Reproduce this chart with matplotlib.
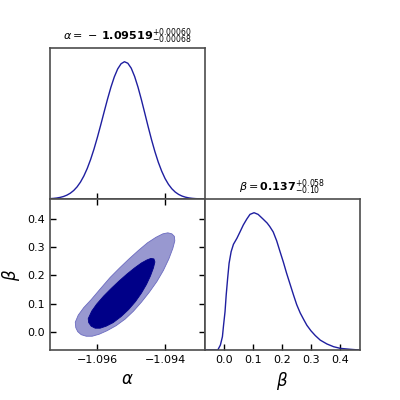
import numpy as np
import matplotlib
matplotlib.use("Agg")
import matplotlib.pyplot as plt

# 1D marginal of alpha (normalised to peak = 1)
alpha_x = [-1.0974, -1.0973, -1.0972, -1.0971, -1.0970, -1.0969, -1.0968, -1.0967,
           -1.0966, -1.0965, -1.0964, -1.0963, -1.0962, -1.0961, -1.0960, -1.0959,
           -1.0958, -1.0957, -1.0956, -1.0955, -1.0954, -1.0953, -1.0952, -1.0951,
           -1.0950, -1.0949, -1.0948, -1.0947, -1.0946, -1.0945, -1.0944, -1.0943,
           -1.0942, -1.0941, -1.0940, -1.0939, -1.0938, -1.0937, -1.0936, -1.0935,
           -1.0934, -1.0933, -1.0932, -1.0931, -1.0930, -1.0929, -1.0928]
alpha_p = [0.0026, 0.0044, 0.0072, 0.0117, 0.0183, 0.0282, 0.0423, 0.0618,
           0.0883, 0.1231, 0.1675, 0.2222, 0.2879, 0.3639, 0.4489, 0.5404,
           0.6351, 0.7279, 0.8145, 0.8893, 0.9475, 0.9853, 1.0000, 0.9890,
           0.9530, 0.8930, 0.8150, 0.7240, 0.6260, 0.5270, 0.4320, 0.3450,
           0.2680, 0.2030, 0.1490, 0.1070, 0.0746, 0.0506, 0.0335, 0.0215,
           0.0135, 0.0082, 0.0049, 0.0028, 0.0016, 0.0009, 0.0005]

# 1D marginal of beta
beta_x = [-0.063, -0.020, -0.011, -0.004, 0.000, 0.005, 0.009, 0.014, 0.019, 0.026,
          0.034, 0.046, 0.057, 0.068, 0.080, 0.091, 0.105, 0.119, 0.136, 0.150,
          0.159, 0.171, 0.183, 0.194, 0.206, 0.217, 0.229, 0.241, 0.252, 0.264,
          0.276, 0.287, 0.301, 0.316, 0.333, 0.356, 0.379, 0.402, 0.437, 0.468]
beta_p = [0.0, 0.0, 0.036, 0.097, 0.182, 0.279, 0.400, 0.522, 0.632, 0.716,
          0.770, 0.814, 0.862, 0.911, 0.954, 0.988, 1.000, 0.988, 0.954, 0.925,
          0.900, 0.860, 0.795, 0.720, 0.640, 0.560, 0.480, 0.400, 0.330, 0.270,
          0.222, 0.180, 0.140, 0.105, 0.072, 0.044, 0.024, 0.012, 0.005, 0.0]

# 2D contours (outer and inner credible regions)
outer_a = [-1.096653, -1.096638, -1.096579, -1.096476, -1.096329, -1.096153, -1.095947, -1.095712,
           -1.095447, -1.095182, -1.094932, -1.094697, -1.094462, -1.094241, -1.094050, -1.093888,
           -1.093771, -1.093712, -1.093726, -1.093800, -1.093918, -1.094065, -1.094271, -1.094521,
           -1.094785, -1.095065, -1.095344, -1.095624, -1.095918, -1.096182, -1.096403, -1.096565]
outer_b = [0.0344, 0.0149, 0.0007, -0.0099, -0.0153, -0.0153, -0.0082, 0.0043,
           0.0220, 0.0451, 0.0735, 0.1054, 0.1409, 0.1782, 0.2173, 0.2581,
           0.2953, 0.3220, 0.3380, 0.3468, 0.3504, 0.3468, 0.3344, 0.3149,
           0.2883, 0.2581, 0.2261, 0.1924, 0.1516, 0.1143, 0.0859, 0.0593]
inner_a = [-1.096271, -1.096256, -1.096182, -1.096065, -1.095918, -1.095741, -1.095535, -1.095300,
           -1.095079, -1.094874, -1.094697, -1.094550, -1.094432, -1.094344, -1.094300, -1.094329,
           -1.094418, -1.094535, -1.094697, -1.094903, -1.095124, -1.095359, -1.095594, -1.095815,
           -1.096021, -1.096168]
inner_b = [0.0469, 0.0327, 0.0202, 0.0131, 0.0131, 0.0202, 0.0327, 0.0540,
           0.0788, 0.1072, 0.1374, 0.1676, 0.1977, 0.2261, 0.2474, 0.2581,
           0.2599, 0.2545, 0.2439, 0.2261, 0.2048, 0.1800, 0.1534, 0.1267,
           0.0983, 0.0735]

alim = (-1.0974, -1.09282)
blim = (-0.064, 0.470)
a_ticks = [-1.096, -1.094]
b_ticks = [0.0, 0.1, 0.2, 0.3, 0.4]

line_c = "#1f1fa0"
spine_c = "#4d4d4d"

fig = plt.figure(figsize=(4, 4), dpi=100)
ax_a = fig.add_axes([0.125, 0.5025, 0.3875, 0.3775])
ax_ab = fig.add_axes([0.125, 0.125, 0.3875, 0.3775])
ax_b = fig.add_axes([0.5125, 0.125, 0.3875, 0.3775])

for ax in (ax_a, ax_ab, ax_b):
    for s in ax.spines.values():
        s.set_color(spine_c)
        s.set_linewidth(1.2)
    ax.tick_params(direction="in", length=4, width=1, color="k", labelsize=8)

# alpha marginal
ax_a.plot(alpha_x, alpha_p, color=line_c, lw=1)
ax_a.set_xlim(alim)
ax_a.set_ylim(0, 1.1)
ax_a.set_xticks(a_ticks)
ax_a.set_yticks([])
ax_a.tick_params(labelbottom=False)
ax_a.set_title(r"$\alpha =\,-\,\mathbf{1.09519}^{+0.00060}_{-0.00068}$", fontsize=8, pad=6)

# 2D
ax_ab.fill(outer_a, outer_b, facecolor="#9898d0", edgecolor="#6b6bc0", lw=0.6)
ax_ab.fill(inner_a, inner_b, facecolor="#000088", edgecolor="#000088", lw=0.6)
ax_ab.set_xlim(alim)
ax_ab.set_ylim(blim)
ax_ab.set_xticks(a_ticks)
ax_ab.set_yticks(b_ticks)
ax_ab.tick_params(top=True, right=True)
ax_ab.set_xlabel(r"$\alpha$", fontsize=12)
ax_ab.set_ylabel(r"$\beta$", fontsize=12)

# beta marginal
ax_b.plot(beta_x, beta_p, color=line_c, lw=1)
ax_b.set_xlim(blim)
ax_b.set_ylim(0, 1.1)
ax_b.set_xticks(b_ticks)
ax_b.set_yticks([])
ax_b.set_xlabel(r"$\beta$", fontsize=12)
ax_b.set_title(r"$\beta = \mathbf{0.137}^{+0.058}_{-0.10}$", fontsize=8, pad=6)

fig.savefig("out.png", dpi=100)
